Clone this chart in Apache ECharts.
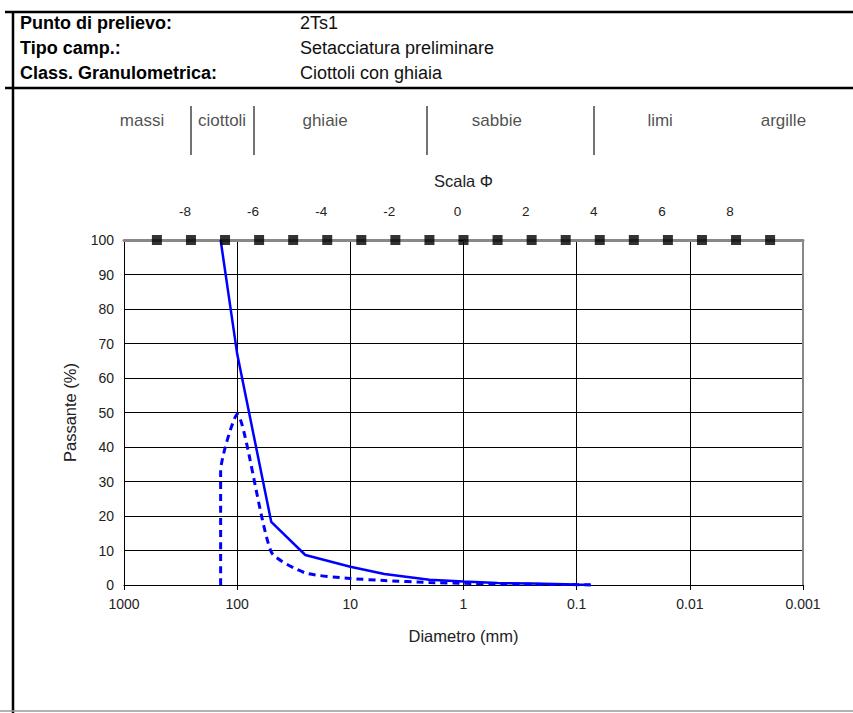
<!DOCTYPE html>
<html><head><meta charset="utf-8">
<script src="https://cdn.jsdelivr.net/npm/echarts@6/dist/echarts.min.js"></script>
<style>html,body{margin:0;padding:0;background:#fff}#c{width:853px;height:713px}</style>
</head><body><div id="c"></div>
<script>
// ---- data ----
const headerLabels = ['Punto di prelievo:', 'Tipo camp.:', 'Class. Granulometrica:'];
const headerValues = ['2Ts1', 'Setacciatura preliminare', 'Ciottoli con ghiaia'];
const classNames = ['massi', 'ciottoli', 'ghiaie', 'sabbie', 'limi', 'argille'];
const classCenters = [693, 136, 16.7, 0.507, 0.0183, 0.00149];   // mm
const classBounds = [256, 72, 2.1, 0.068, 0.0041];              // mm
const phiMarks = [-9, -8, -7, -6, -5, -4, -3, -2, -1, 0, 1, 2, 3, 4, 5, 6, 7, 8, 9];
const phiTicks = [-8, -6, -4, -2, 0, 2, 4, 6, 8];
const diamTicks = [1000, 100, 10, 1, 0.1, 0.01, 0.001];
const passD = [140, 100, 50, 25, 10, 5, 2, 1, 0.5, 0.25, 0.1, 0.075];
const passP = [100, 67, 18.3, 8.7, 5.3, 3.2, 1.5, 1.0, 0.6, 0.4, 0.15, 0.1];
const freqD = [140, 140, 100, 50, 25, 10, 5, 2, 1, 0.5, 0.25, 0.1, 0.075];
const freqP = [0, 33, 49.5, 9.6, 3.5, 1.9, 1.3, 0.7, 0.5, 0.3, 0.2, 0.1, 0];

const chart = echarts.init(document.getElementById('c'), null, {renderer: 'svg'});
const FONT = '"Liberation Sans", Arial, sans-serif';
const txt = '#222';

const graphics = [
  {type: 'line', shape: {x1: 5, y1: 12, x2: 853, y2: 12}, style: {stroke: '#000', lineWidth: 2.5}},
  {type: 'line', shape: {x1: 5, y1: 88, x2: 853, y2: 88}, style: {stroke: '#000', lineWidth: 2.5}},
  {type: 'line', shape: {x1: 13, y1: 12, x2: 13, y2: 713}, style: {stroke: '#000', lineWidth: 2.5}},
  {type: 'line', shape: {x1: 0, y1: 711, x2: 853, y2: 711}, style: {stroke: '#999', lineWidth: 1.5}}
];
headerLabels.forEach((t, i) => {
  graphics.push({type: 'text', x: 20, y: 23 + i * 25, style: {text: t, fill: '#000', font: 'bold 18px ' + FONT, textVerticalAlign: 'middle'}});
  graphics.push({type: 'text', x: 300, y: 23 + i * 25, style: {text: headerValues[i], fill: '#111', font: '18px ' + FONT, textVerticalAlign: 'middle'}});
});

const option = {
  animation: false,
  backgroundColor: '#fff',
  textStyle: {fontFamily: FONT},
  graphic: graphics,
  grid: [
    {left: 124, right: 50, top: 240, bottom: 128},
    {left: 124, right: 50, top: 106, height: 49}
  ],
  xAxis: [
    {
      type: 'log', logBase: 10, min: 0.001, max: 1000, inverse: true, gridIndex: 0,
      splitNumber: 6,
      name: 'Diametro (mm)', nameLocation: 'middle', nameGap: 42,
      nameTextStyle: {fontSize: 16.5, color: txt, fontFamily: FONT},
      axisLine: {lineStyle: {color: '#000', width: 1}},
      axisTick: {show: true, length: 5, lineStyle: {color: '#000'}},
      axisLabel: {fontSize: 14, color: txt, margin: 12,
        formatter: v => { const n = diamTicks.find(d => Math.abs(Math.log10(d) - Math.log10(v)) < 1e-6); return n === undefined ? '' : String(n); }},
      splitLine: {show: true, lineStyle: {color: '#000', width: 1}},
      minorTick: {show: false}
    },
    {
      type: 'value', gridIndex: 0, position: 'top',
      min: -Math.log2(1000), max: Math.log2(1000),
      name: 'Scala Φ', nameLocation: 'middle', nameGap: 51,
      nameTextStyle: {fontSize: 16.5, color: txt, fontFamily: FONT},
      axisLine: {onZero: false, lineStyle: {color: '#888', width: 3}},
      axisTick: {show: false},
      axisLabel: {fontSize: 13.5, color: txt, margin: 22, customValues: phiTicks, padding: [0, 12, 0, 0]},
      splitLine: {show: false}
    },
    {
      type: 'log', logBase: 10, min: 0.001, max: 1000, inverse: true, gridIndex: 1, show: false
    }
  ],
  yAxis: [
    {
      type: 'value', min: 0, max: 100, interval: 10, gridIndex: 0,
      name: 'Passante (%)', nameLocation: 'middle', nameGap: 46,
      nameTextStyle: {fontSize: 16.5, color: txt, fontFamily: FONT},
      axisLine: {show: true, lineStyle: {color: '#000', width: 1}},
      axisTick: {show: true, length: 5, lineStyle: {color: '#000'}},
      axisLabel: {fontSize: 14, color: txt, margin: 10},
      splitLine: {show: true, lineStyle: {color: '#000', width: 1}}
    },
    {
      type: 'value', min: 0, max: 100, gridIndex: 0, position: 'right',
      axisLine: {show: true, lineStyle: {color: '#888', width: 2}},
      axisTick: {show: false}, axisLabel: {show: false}, splitLine: {show: false}
    },
    {type: 'value', min: 0, max: 1, gridIndex: 1, show: false}
  ],
  series: [
    {
      name: 'Passante', type: 'line', xAxisIndex: 0, yAxisIndex: 0,
      data: passD.map((d, i) => [d, passP[i]]),
      symbol: 'none', clip: false, z: 4,
      lineStyle: {color: '#0000ff', width: 2.5}
    },
    {
      name: 'Frequenza', type: 'line', xAxisIndex: 0, yAxisIndex: 0,
      data: freqD.map((d, i) => [d, freqP[i]]),
      symbol: 'none', clip: false, smooth: 0.2, z: 4,
      lineStyle: {color: '#0000ff', width: 3, type: [7, 5]}
    },
    {
      name: 'phi', type: 'scatter', xAxisIndex: 1, yAxisIndex: 0,
      data: phiMarks.map(p => [p, 100]),
      symbol: 'rect', symbolSize: 10, clip: false, z: 5,
      itemStyle: {color: '#000'}, silent: true
    },
    {
      name: 'classi', type: 'scatter', xAxisIndex: 2, yAxisIndex: 2,
      data: classNames.map((n, i) => ({name: n, value: [classCenters[i], 0.7]})),
      symbolSize: 1, itemStyle: {color: 'transparent'}, silent: true, clip: false,
      label: {show: true, position: 'inside', formatter: p => p.name, fontSize: 17, color: txt, fontFamily: FONT},
      markLine: {
        silent: true, symbol: 'none',
        label: {show: false},
        lineStyle: {color: '#444', width: 1.5, type: 'solid'},
        data: classBounds.map(b => ({xAxis: b}))
      }
    }
  ]
};
chart.setOption(option);
</script>
</body></html>
